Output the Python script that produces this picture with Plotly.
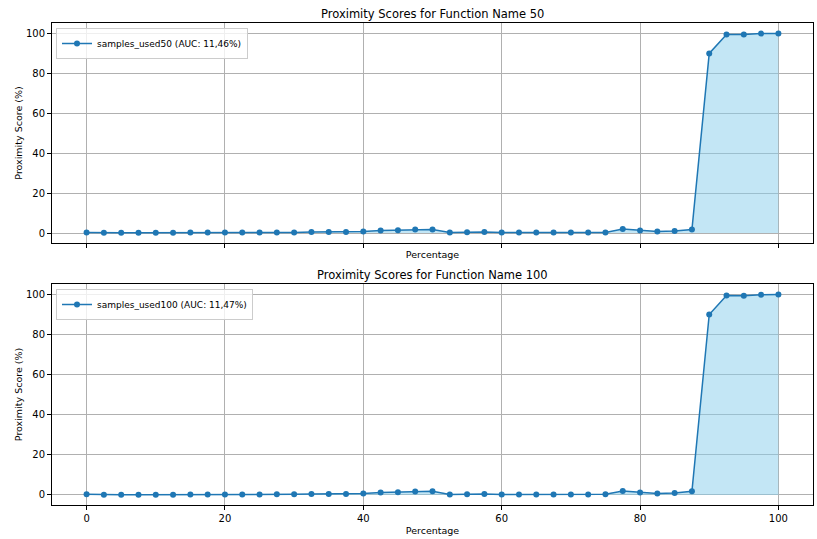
import plotly.graph_objects as go

W, H = 817, 539

percent = [i * 2.5 for i in range(41)]
scores_50 = [0.3, 0.1, 0.1, 0.1, 0.1, 0.1, 0.2, 0.2, 0.2, 0.2, 0.2, 0.3, 0.3, 0.5, 0.5, 0.5, 0.7,
             1.2, 1.4, 1.7, 1.8, 0.2, 0.4, 0.5, 0.2, 0.2, 0.2, 0.2, 0.2, 0.2, 0.3,
             2.0, 1.2, 0.7, 1.0, 1.7, 89.8, 99.3, 99.2, 99.7, 99.8]
scores_100 = [0.3, 0.1, 0.1, 0.1, 0.1, 0.1, 0.2, 0.2, 0.2, 0.2, 0.2, 0.3, 0.3, 0.5, 0.5, 0.5, 0.7,
              1.2, 1.4, 1.7, 1.8, 0.2, 0.4, 0.5, 0.2, 0.2, 0.2, 0.2, 0.2, 0.2, 0.3,
              2.0, 1.2, 0.7, 1.0, 1.8, 89.8, 99.3, 99.2, 99.7, 99.8]
labels = ["samples_used50 (AUC: 11,46%)", "samples_used100 (AUC: 11,47%)"]
titles = ["Proximity Scores for Function Name 50", "Proximity Scores for Function Name 100"]
xticks = [0, 20, 40, 60, 80, 100]
yticks = [0, 20, 40, 60, 80, 100]

BLUE = "#1f77b4"
FILL = "rgba(135,206,235,0.5)"

# pixel layout
L, R = 52, 813
panels = [(23, 243), (284, 505)]

fig = go.Figure()
for i, (ys, lab) in enumerate(zip([scores_50, scores_100], labels)):
    xa = "x" if i == 0 else "x2"
    ya = "y" if i == 0 else "y2"
    fig.add_trace(go.Scatter(x=percent, y=ys, mode="lines", fill="tozeroy", fillcolor=FILL,
                             line=dict(width=0), showlegend=False, hoverinfo="skip",
                             xaxis=xa, yaxis=ya))
    fig.add_trace(go.Scatter(x=percent, y=ys, mode="lines+markers", name=lab,
                             line=dict(color=BLUE, width=1.5), marker=dict(size=6, color=BLUE),
                             xaxis=xa, yaxis=ya, legend="legend" if i == 0 else "legend2"))

axis_common = dict(range=[-5, 105], showgrid=True, gridcolor="#b0b0b0", gridwidth=1,
                   showline=True, linecolor="black", linewidth=1, mirror=True,
                   ticks="outside", ticklen=4, tickcolor="black", zeroline=False,
                   tickfont=dict(size=10, color="black"))

layout = dict(width=W, height=H, margin=dict(l=0, r=0, t=0, b=0),
              plot_bgcolor="white", paper_bgcolor="white",
              font=dict(family="DejaVu Sans", color="black"))
annotations = []
for i, (t, b) in enumerate(panels):
    sfx = "" if i == 0 else "2"
    ydom = [(H - b) / H, (H - t) / H]
    layout["xaxis" + sfx] = dict(axis_common, domain=[L / W, R / W], tickvals=xticks,
                                 anchor="y" + sfx, showticklabels=(i == 1),
                                 title=dict(text="Percentage", font=dict(size=9.5), standoff=4))
    layout["yaxis" + sfx] = dict(axis_common, domain=ydom, tickvals=yticks, anchor="x" + sfx,
                                 title=dict(text="Proximity Score (%)", font=dict(size=9.5), standoff=1))
    annotations.append(dict(text=titles[i], x=(L + R) / 2 / W, y=(H - (t - 9)) / H,
                            xref="paper", yref="paper", xanchor="center", yanchor="middle",
                            showarrow=False, font=dict(size=11.5)))
    layout["legend" + sfx] = dict(x=(L + 4) / W, y=(H - t - 5) / H, xanchor="left", yanchor="top",
                                  bgcolor="rgba(255,255,255,0.8)", bordercolor="#cccccc",
                                  borderwidth=1, font=dict(size=9), itemwidth=30,
                                  tracegroupgap=0)
layout["annotations"] = annotations
fig.update_layout(**layout)
fig.write_html("out.html")
